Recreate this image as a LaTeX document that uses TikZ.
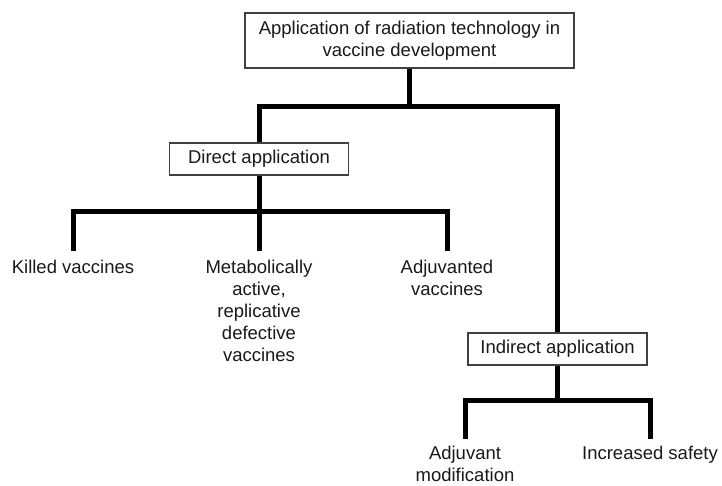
\documentclass[tikz,border=0pt]{standalone}
\usepackage{fontspec}
\setmainfont{Liberation Sans}
\usepackage{tikz}

\begin{document}
\begin{tikzpicture}[
    x=1pt, y=-1pt,
    box/.style={rectangle, draw=black!75, line width=1.2pt, fill=white,
                text=black!90, font=\fontsize{18.5}{22}\selectfont,
                align=center, inner sep=0pt},
    leaf/.style={anchor=north, text=black!90, font=\fontsize{18.5}{22}\selectfont,
                 align=center, inner sep=0pt},
    branch/.style={line width=5pt, draw=black, line join=miter},
    gap/.style={shorten <=#1, shorten >=#1}
]
    \useasboundingbox (0,0) rectangle (722,486);
    \node[box, minimum width=329pt, minimum height=55pt] (root) at (409.5,40.5) {Application of radiation technology in\\vaccine development};
    \node[box, minimum width=179pt, minimum height=32pt] (direct) at (259,159) {Direct application};
    \node[box, minimum width=179pt, minimum height=32pt] (indirect) at (557.5,349) {Indirect application};
    \node[leaf] (killed) at (73,260) {Killed vaccines};
    \node[leaf] (meta) at (259,260) {Metabolically\\active,\\replicative\\defective\\vaccines};
    \node[leaf] (adjuv) at (447,260) {Adjuvanted\\vaccines};
    \node[leaf] (adjmod) at (465,446) {Adjuvant\\modification};
    \node[leaf] (safety) at (650,446) {Increased safety};

    \coordinate (rootbar) at (409.5,107);
    \coordinate (directbar) at (259,212);
    \coordinate (indirectbar) at (557.5,400);

    \draw[branch] (root.south) -- (rootbar);
    \draw[branch] (direct.north) |- (rootbar) -| (indirect.north);
    \draw[branch] (direct.south) -- (directbar);
    \draw[branch, gap=9pt] (killed.north) |- (directbar) -| (adjuv.north);
    \draw[branch, shorten >=9pt] (directbar) -- (meta.north);
    \draw[branch] (indirect.south) -- (indirectbar);
    \draw[branch, gap=7pt] (adjmod.north) |- (indirectbar) -| (safety.north);
\end{tikzpicture}
\end{document}
